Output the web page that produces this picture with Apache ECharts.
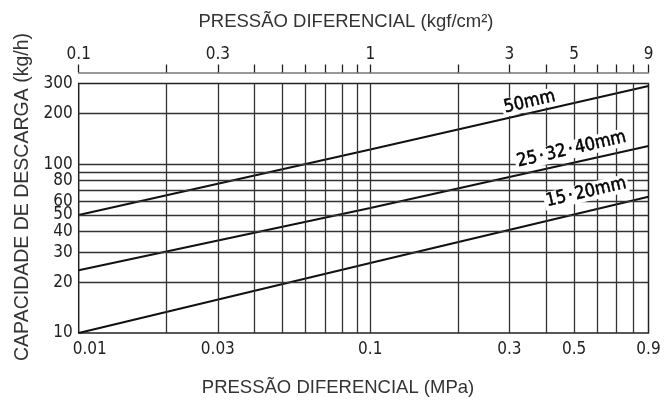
<!DOCTYPE html>
<html><head><meta charset="utf-8">
<script src="https://cdn.jsdelivr.net/npm/echarts@6/dist/echarts.min.js"></script>
<style>html,body{margin:0;padding:0;background:#fff}#c{width:672px;height:400px}</style>
</head><body><div id="c"></div>
<script>
// ---- data ----
const pressureMPa = [0.01, 0.1, 0.9];
const cap50 = [50, 122, 290];
const cap25_40 = [23.5, 55, 128];
const cap15_20 = [10, 26, 64];
const seriesNames = ['50mm', '25·32·40mm', '15·20mm'];
const xTickLabelsMPa = [0.01, 0.03, 0.1, 0.3, 0.5, 0.9];
const xTickLabelsKgf = [0.1, 0.3, 1, 3, 5, 9];
const xTicksKgf = [0.1, 0.2, 0.3, 0.4, 0.5, 0.6, 0.7, 0.8, 0.9, 1, 2, 3, 4, 5, 6, 7, 8, 9];
const yTickLabels = [10, 20, 30, 40, 50, 60, 80, 100, 200, 300];
const xGridMPa = [0.02, 0.03, 0.04, 0.05, 0.06, 0.07, 0.08, 0.09, 0.1, 0.2, 0.3, 0.4, 0.5, 0.6, 0.7, 0.8];
const yGrid = [20, 30, 40, 50, 60, 70, 80, 90, 100, 200];
const labelAnchors = [[0.352, 233], [0.49, 122], [0.55, 68]];

const NARROW = "'DejaVu Sans Condensed', 'Liberation Sans', sans-serif";
const SANS = "'Liberation Sans', Arial, sans-serif";
const fmt = v => String(+v.toPrecision(6));
const tickFont = {fontFamily: NARROW, fontSize: 17, color: '#222'};

const chart = echarts.init(document.getElementById('c'), null, {renderer: 'canvas'});

const lineStyle = {color: '#111', width: 2};
const labelFont = {fontFamily: NARROW, fontSize: 18, fontWeight: 'normal', color: '#000', textBorderColor: '#000', textBorderWidth: 0.5};

function mkLabel(i, formatter, rich) {
  return {
    data: [{coord: labelAnchors[i]}],
    symbol: 'rect', symbolSize: 0, silent: true,
    label: Object.assign({show: true, position: 'inside', rotate: 13, formatter: formatter,
      backgroundColor: '#fff', padding: [0, 2, 0, 2], rich: rich}, labelFont)
  };
}

const option = {
  animation: false,
  backgroundColor: '#fff',
  grid: {left: 78.7, right: 23.5, top: 83.5, bottom: 67, show: true, borderColor: '#222', borderWidth: 1.5, backgroundColor: 'transparent'},
  xAxis: [
    {type: 'log', logBase: 10, min: 0.01, max: 0.9, position: 'bottom',
      axisLine: {show: false}, axisTick: {show: false}, splitLine: {show: false}, minorTick: {show: false},
      axisLabel: Object.assign({customValues: xTickLabelsMPa, margin: 8, showMinLabel: true, showMaxLabel: true,
        formatter: v => (Math.abs(v - xTickLabelsMPa[0]) < 1e-9 ? '{p|' + fmt(v) + '}' : fmt(v)),
        rich: {p: Object.assign({padding: [0, 0, 0, 22]}, tickFont)}}, tickFont)},
    {type: 'log', logBase: 10, min: 0.1, max: 9, position: 'top', offset: 11,
      axisLine: {show: true, onZero: false, lineStyle: {color: '#777', width: 1.5}},
      axisTick: {show: true, customValues: xTicksKgf, length: 8, inside: false, lineStyle: {color: '#222', width: 1.3}},
      splitLine: {show: false},
      axisLabel: Object.assign({customValues: xTickLabelsKgf, formatter: fmt, margin: 9,
        showMinLabel: true, showMaxLabel: true}, tickFont)}
  ],
  yAxis: {type: 'log', logBase: 10, min: 10, max: 300,
    axisLine: {show: false}, axisTick: {show: false}, splitLine: {show: false},
    axisLabel: Object.assign({customValues: yTickLabels, formatter: fmt, margin: 6,
      showMinLabel: true, showMaxLabel: true}, tickFont)},
  series: [
    {name: 'grid', type: 'line', z: 1, data: [[0.01, 10]], showSymbol: false, symbolSize: 0, lineStyle: {width: 0}, silent: true,
      markLine: {silent: true, symbol: 'none', animation: false, label: {show: false},
        lineStyle: {color: '#333', width: 1.3, type: 'solid'},
        emphasis: {disabled: true},
        data: xGridMPa.map(v => ({xAxis: v})).concat(yGrid.map(v => ({yAxis: v})))}},
    {name: seriesNames[0], type: 'line', z: 3, showSymbol: false, lineStyle: lineStyle,
      data: pressureMPa.map((p, i) => [p, cap50[i]]),
      markPoint: mkLabel(0, seriesNames[0])},
    {name: seriesNames[1], type: 'line', z: 3, showSymbol: false, lineStyle: lineStyle,
      data: pressureMPa.map((p, i) => [p, cap25_40[i]]),
      markPoint: mkLabel(1, '{a|25}{d|·}{a|32}{d|·}{a|40mm}', {
        a: Object.assign({}, labelFont), d: Object.assign({padding: [0, 2, 0, 2]}, labelFont)})},
    {name: seriesNames[2], type: 'line', z: 3, showSymbol: false, lineStyle: lineStyle,
      data: pressureMPa.map((p, i) => [p, cap15_20[i]]),
      markPoint: mkLabel(2, '{a|15}{d|·}{a|20mm}', {
        a: Object.assign({}, labelFont), d: Object.assign({padding: [0, 2, 0, 2]}, labelFont)})}
  ],
  graphic: [
    {type: 'text', x: 346, y: 22, style: {text: 'PRESSÃO DIFERENCIAL (kgf/cm²)', font: '18.5px ' + SANS, fill: '#333', align: 'center', verticalAlign: 'middle'}},
    {type: 'text', x: 338, y: 388, style: {text: 'PRESSÃO DIFERENCIAL (MPa)', font: '18.5px ' + SANS, fill: '#333', align: 'center', verticalAlign: 'middle'}},
    {type: 'text', x: 23, y: 197, rotation: Math.PI / 2, style: {text: 'CAPACIDADE DE DESCARGA (kg/h)', font: '19.5px ' + SANS, fill: '#333', align: 'center', verticalAlign: 'middle'}}
  ]
};
chart.setOption(option);
</script></body></html>
